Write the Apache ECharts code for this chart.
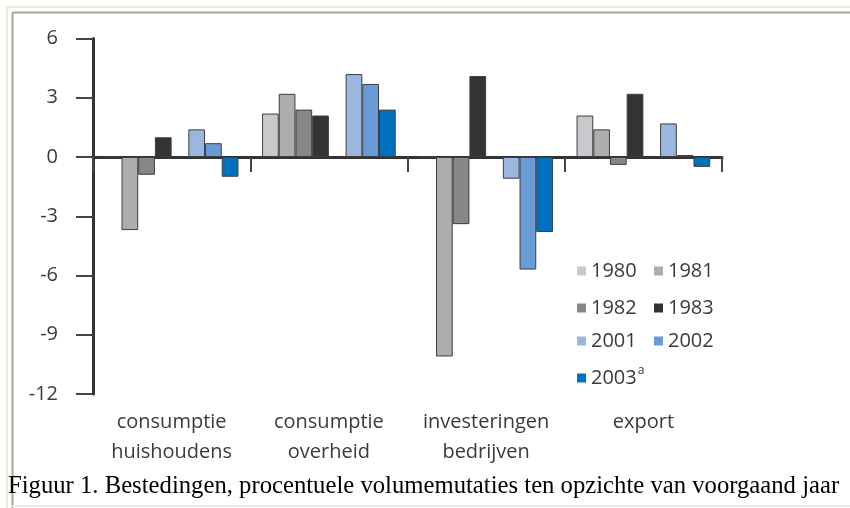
<!DOCTYPE html>
<html>
<head>
<meta charset="utf-8">
<script src="https://cdn.jsdelivr.net/npm/echarts@6/dist/echarts.min.js"></script>
<style>
  html, body { margin: 0; padding: 0; background: #fff; }
  #chart { width: 850px; height: 508px; }
</style>
</head>
<body>
<div id="chart"></div>
<script>
const categories = ['consumptie\nhuishoudens', 'consumptie\noverheid', 'investeringen\nbedrijven', 'export']
const years = ['1980', '1981', '1982', '1983', '2001', '2002', '2003']
const colors = ['#c9c8cc', '#adadad', '#85878b', '#333432', '#9bb6df', '#6b9bd7', '#0071bf']

// volumemutaties per jaar, in volgorde van de categorieën
const v1980 = [0, 2.2, 0, 2.1]
const v1981 = [-3.7, 3.2, -10.1, 1.4]
const v1982 = [-0.9, 2.4, -3.4, -0.4]
const v1983 = [1.0, 2.1, 4.1, 3.2]
const v2001 = [1.4, 4.2, -1.1, 1.7]
const v2002 = [0.7, 3.7, -5.7, 0.1]
const v2003 = [-1.0, 2.4, -3.8, -0.5]
const yTicks = [-12, -9, -6, -3, 0, 3, 6]

const values = [v1980, v1981, v1982, v1983, v2001, v2002, v2003]

const chart = echarts.init(document.getElementById('chart'))

const txt = '#3a3a3a'
const font = '"Open Sans", Lato, sans-serif'

const series = []
values.forEach((vals, i) => {
  if (i === 4) {
    // lege plek tussen de oude en de nieuwe jaren
    series.push({ name: 'gap', type: 'bar', data: categories.map(() => null), barGap: '0%', barCategoryGap: '15%' })
  }
  series.push({
    name: years[i],
    type: 'bar',
    barGap: '0%',
    barCategoryGap: '15%',
    data: vals,
    itemStyle: { color: colors[i], borderColor: '#3e3e3e', borderWidth: 1 }
  })
})

const legendRows = [['1980', '1981'], ['1982', '1983'], ['2001', '2002'], ['2003']]
const legendTops = [254, 291, 324, 360]

const legend = legendRows.map((row, r) => ({
  data: row,
  left: 572,
  top: legendTops[r],
  orient: 'horizontal',
  itemWidth: 9,
  itemHeight: 9,
  itemGap: 7,
  icon: 'rect',
  selectedMode: false,
  itemStyle: { borderWidth: 0 },
  formatter: name => name === '2003' ? '2003{sup|a}' : name,
  textStyle: {
    color: txt, fontSize: 20, fontFamily: font, width: 56, lineHeight: 24,
    rich: { sup: { fontSize: 12, color: txt, fontFamily: font, padding: [0, 0, 14, 1] } }
  }
}))

const option = {
  animation: false,
  backgroundColor: '#fff',
  grid: { left: 93, top: 38.5, width: 629, height: 355.5, containLabel: false },
  legend,
  xAxis: [
    {
      type: 'category',
      data: categories,
      axisLine: { onZero: true, lineStyle: { color: '#333', width: 3 } },
      axisTick: { show: true, length: 15, lineStyle: { color: '#444', width: 2 } },
      axisLabel: { show: false }
    },
    {
      type: 'category',
      data: categories,
      position: 'bottom',
      axisLine: { show: false, onZero: false },
      axisTick: { show: false },
      axisLabel: { color: txt, fontSize: 20, lineHeight: 30, margin: 13, fontFamily: font, interval: 0 }
    }
  ],
  yAxis: {
    type: 'value',
    min: yTicks[0],
    max: yTicks[yTicks.length - 1],
    interval: 3,
    axisLine: { show: true, lineStyle: { color: '#333', width: 3 } },
    axisTick: { show: true, length: 17, lineStyle: { color: '#444', width: 2 } },
    axisLabel: { color: txt, fontSize: 20, margin: 35, fontFamily: font },
    splitLine: { show: false }
  },
  series,
  graphic: [
    { type: 'line', shape: { x1: 7, y1: 7, x2: 850, y2: 7 }, style: { stroke: '#efe9d8', lineWidth: 2 } },
    { type: 'line', shape: { x1: 7, y1: 7, x2: 7, y2: 508 }, style: { stroke: '#efe9d8', lineWidth: 2 } },
    { type: 'line', shape: { x1: 12.5, y1: 12.5, x2: 850, y2: 12.5 }, style: { stroke: '#aaa699', lineWidth: 2 } },
    { type: 'line', shape: { x1: 12.5, y1: 12.5, x2: 12.5, y2: 508 }, style: { stroke: '#aaa699', lineWidth: 2 } },
    { type: 'line', shape: { x1: 12, y1: 506, x2: 850, y2: 506 }, style: { stroke: '#ece9e0', lineWidth: 2 } },
    {
      type: 'text', left: 8, top: 474,
      style: {
        text: 'Figuur 1. Bestedingen, procentuele volumemutaties ten opzichte van voorgaand jaar',
        font: '24.7px "Liberation Serif", "Times New Roman", serif',
        fill: '#000'
      }
    }
  ]
}

chart.setOption(option)
</script>
</body>
</html>
